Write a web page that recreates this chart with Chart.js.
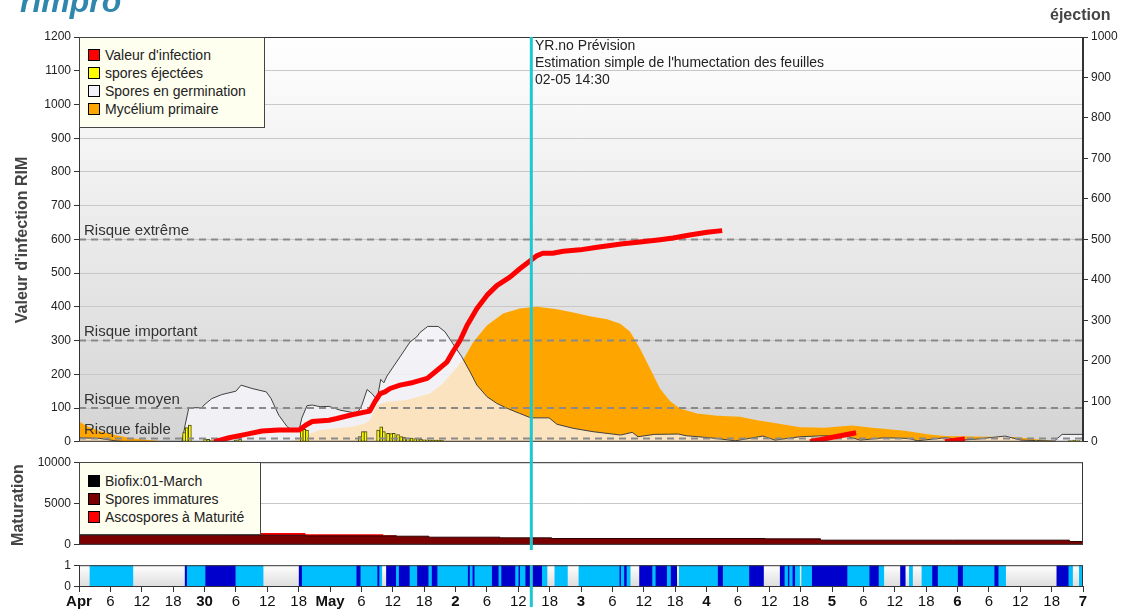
<!DOCTYPE html>
<html lang="fr">
<head>
<meta charset="utf-8">
<title>RIM</title>
<script src="https://cdn.jsdelivr.net/npm/chart.js@4.4.1/dist/chart.umd.min.js"></script>
<style>
  body { margin: 0; background: #fff; font-family: "Liberation Sans", Arial, sans-serif; }
  #wrap { position: relative; width: 1135px; height: 610px; overflow: hidden; }
  canvas { position: absolute; left: 0; }
  .txt { position: absolute; white-space: nowrap; color: #222; }
  .vtitle { position: absolute; white-space: nowrap; font-weight: bold; font-size: 16px; color: #444;
            transform: translate(-50%, -50%) rotate(-90deg); }
  .legend { position: absolute; background: #fffff0; border: 1px solid #444; box-sizing: border-box;
            font-size: 14px; color: #222; }
  .legend div { height: 18px; line-height: 18px; padding-left: 8px; }
  .sw { display: inline-block; width: 10px; height: 10px; border: 1px solid #000; margin-right: 5px;
        vertical-align: -1px; }
</style>
</head>
<body>
<div id="wrap">
  <canvas id="main" width="1135" height="452" style="top:0"></canvas>
  <canvas id="mat" width="1135" height="103" style="top:452px"></canvas>
  <canvas id="wet" width="1135" height="55" style="top:555px"></canvas>

  <div class="txt" style="left:20px;top:-15px;font-size:32px;line-height:32px;font-weight:bold;font-style:italic;color:#2f87ad">rimpro</div>
  <div class="txt" style="left:1050px;top:6px;font-size:16px;font-weight:bold;color:#444">éjection</div>
  <div class="vtitle" style="left:22px;top:240px">Valeur d'infection RIM</div>
  <div class="vtitle" style="left:18px;top:505px">Maturation</div>

  <div class="txt" style="left:535px;top:37px;font-size:14px;line-height:17px">YR.no Prévision<br>Estimation simple de l'humectation des feuilles<br>02-05 14:30</div>

  <div class="legend" style="left:79px;top:37px;width:186px;height:91px;padding-top:8px">
    <div><span class="sw" style="background:#ff0000"></span>Valeur d'infection</div>
    <div><span class="sw" style="background:#ffff00"></span>spores éjectées</div>
    <div><span class="sw" style="background:#f2f2f8"></span>Spores en germination</div>
    <div><span class="sw" style="background:#ffa500"></span>Mycélium primaire</div>
  </div>
  <div class="legend" style="left:79px;top:462px;width:182px;height:73px;padding-top:9px">
    <div><span class="sw" style="background:#000"></span>Biofix:01-March</div>
    <div><span class="sw" style="background:#7b0000"></span>Spores immatures</div>
    <div><span class="sw" style="background:#ff0000"></span>Ascospores à Maturité</div>
  </div>
</div>

<script>
// heures depuis le 29 avril 00:00
const dayLabels = ['Apr', '30', 'May', '2', '3', '4', '5', '6', '7'];
const nowHour = 86.5;
const riskLevels = [600, 300, 100, 10];
const riskLabels = ['Risque extrême', 'Risque important', 'Risque moyen', 'Risque faible'];

// Valeur d'infection (null = interruption)
const infHours = [25.8, 28.7, 31.9, 35.0, 38.2, 42.1, 43.4, 44.6, 47.8, 49.3, 52.4, 55.6, 56.6, 57.6, 58.5,
  59.5, 61.4, 63.9, 66.6, 68.5, 70.4, 71.5, 72.9, 74.2, 76.1, 78.0, 79.9, 82.4, 84.3, 86.3, 87.6, 88.7,
  90.6, 92.6, 95.8, 99.1, 104.0, 107.3, 111.1, 113.6, 116.8, 120.1, 123.0, 124, 139.8, 143.6, 148.6,
  150, 165.6, 169.4];
const infValues = [0, 12, 22, 32, 35, 35, 50, 60, 64, 69, 81, 91, 119, 143, 148,
  158, 168, 176, 188, 212, 237, 267, 301, 345, 395, 434, 463, 488, 513, 537, 552, 559,
  559, 565, 569, 577, 587, 592, 599, 604, 613, 621, 626, null, 0, 12, 27,
  null, 0, 8];

// Spores en germination
const germHours = [0, 4.0, 6.9, 8.8, 19.7, 20.3, 21.0, 23.5, 23.9, 25.4, 27.3, 30.0, 31.0, 33.1, 35.8,
  36.7, 38.2, 39.8, 40.7, 42.1, 42.6, 43.6, 44.6, 46.1, 47.8, 49.9, 53.2, 54.1, 55.1, 56.0, 57.0, 57.7,
  58.3, 58.9, 61.4, 63.3, 64.6, 65.2, 66.7, 68.7, 70.0, 71.5, 73.2, 74.8, 76.1, 78.0, 79.9, 81.9, 84.3,
  86.4, 89.9, 91.4, 94.5, 98.3, 103.6, 105.8, 106.9, 110.0, 114.6, 116.1, 120.7, 125.5, 130.8, 133.1,
  137.9, 142.5, 147.1, 149.4, 154.0, 158.7, 160.3, 165.6, 168.7, 171.7, 177.1, 180.1, 186.5, 188.0, 192];
const germValues = [12, 10, 3, 0, 0, 50, 101, 101, 109, 128, 140, 150, 168, 158, 148,
  129, 79, 45, 35, 35, 70, 107, 109, 104, 105, 94, 84, 109, 155, 143, 125, 185,
  175, 195, 252, 296, 311, 324, 342, 342, 326, 291, 252, 207, 168, 134, 114, 99, 84,
  71, 71, 52, 40, 30, 20, 28, 15, 22, 23, 18, 12, 3, 17, 5,
  15, 18, 15, 5, 12, 10, 3, 12, 5, 8, 17, 5, 2, 22, 22];

// Mycélium primaire
const mycHours = [0, 1.5, 4.0, 7.3, 10.3, 14.9, 17.4, 40.4, 42.3, 46.1, 52.4, 54.7, 55.6, 57.0, 58.9,
  62.7, 67.1, 69.6, 71.5, 73.4, 75.4, 78.0, 81.1, 84.3, 87.6, 91.4, 94.5, 97.7, 101.0, 103.5, 105.4,
  107.3, 109.2, 111.1, 113.0, 114.9, 118.2, 122.0, 126.4, 129.7, 133.3, 137.9, 142.5, 147.8, 151.7,
  157.9, 162.6, 165.6, 173.3, 178.8, 182.6, 187.2, 192];
const mycValues = [60, 46, 31, 19, 10, 3, 0, 0, 15, 35, 45, 55, 64, 109, 119,
  124, 143, 173, 207, 242, 296, 345, 380, 395, 400, 393, 383, 372, 363, 350, 326,
  276, 217, 158, 121, 99, 84, 77, 74, 64, 55, 43, 42, 48, 42,
  33, 22, 17, 15, 14, 8, 2, 0];

// spores éjectées (axe de droite)
const ejectHours = [20.1, 20.6, 21.2, 24.1, 24.7, 25.4, 30.0, 30.8, 42.6, 43.1, 43.6, 53.7, 54.3, 54.8,
  57.2, 57.8, 58.3, 59.1, 59.7, 60.2, 61.0, 61.6, 62.2, 62.9, 63.6, 64.3, 64.8, 65.4, 66.0, 66.6, 67.1,
  67.7, 68.3, 68.8, 69.4, 183.0, 189.5, 190.3, 191.1];
const ejectValues = [23, 35, 41, 7, 6, 3, 4, 6, 29, 31, 29, 13, 25, 25,
  29, 37, 25, 21, 20, 21, 18, 13, 11, 9, 9, 8, 8, 6, 5, 5, 4,
  4, 4, 4, 4, 3, 3, 4, 3];

// Maturation
const matHours = [0, 28.5, 43.3, 58.2, 60.7, 66.9, 80.5, 90.4, 131.2, 141.8, 167.1, 189.4, 192];
const matImmature = [1160, 1160, 1080, 1080, 1040, 920, 840, 760, 720, 560, 560, 400, 400];
const matMature = [0, 280, 200, 80, 0, 0, 0, 0, 0, 0, 0, 0, 0];

// Humectation : [début, fin, type] 1 = estimée, 2 = mouillée
const wetSegments = [
  [2.1, 10.3, 1], [20.3, 20.7, 2], [20.7, 24.1, 1], [24.1, 30.0, 2], [30.0, 35.2, 1],
  [42.1, 42.7, 2], [42.7, 53.0, 1], [53.0, 53.9, 2], [53.9, 57.0, 1], [57.0, 57.5, 2],
  [57.5, 57.9, 1], [58.8, 60.7, 2], [60.7, 61.1, 1], [61.1, 63.3, 2], [63.3, 64.6, 1],
  [64.6, 66.9, 2], [66.9, 67.4, 1], [67.4, 68.6, 2], [68.6, 74.3, 1], [74.3, 74.8, 2],
  [74.8, 75.2, 1], [75.2, 75.7, 2], [75.7, 78.9, 1], [78.9, 80.3, 2], [80.3, 80.7, 1],
  [80.7, 83.5, 2], [83.5, 84.0, 1], [84.0, 84.4, 2], [84.4, 85.3, 1], [85.3, 88.6, 2],
  [88.6, 89.5, 1], [91.0, 93.4, 1], [95.6, 103.3, 1], [103.3, 103.7, 2], [103.7, 104.2, 1],
  [104.2, 104.8, 2], [104.8, 105.4, 1], [107.2, 109.7, 2], [109.7, 110.2, 1], [110.2, 112.5, 2],
  [112.5, 113.1, 1], [113.1, 114.3, 2], [114.8, 122.1, 1], [122.1, 123.2, 2], [123.2, 128.1, 1],
  [128.1, 130.9, 2], [134.1, 135.0, 2], [135.0, 135.5, 1], [135.5, 135.9, 2], [135.9, 136.4, 1],
  [136.4, 137.0, 2], [137.0, 137.8, 1], [138.2, 140.1, 1], [140.1, 147.0, 2], [147.0, 151.1, 1],
  [151.1, 153.0, 2], [153.0, 153.9, 1], [157.1, 158.0, 2], [158.8, 159.4, 1], [161.2, 163.1, 1],
  [163.1, 164.3, 2], [164.3, 168.0, 1], [168.0, 169.1, 2], [169.1, 175.0, 1], [175.0, 175.9, 2],
  [175.9, 177.2, 1], [187.0, 189.3, 2], [189.3, 190.0, 1], [191.3, 192, 1]
];

Chart.defaults.font.family = '"Liberation Sans", Arial, sans-serif';
Chart.defaults.color = '#222';

function pts(xs, ys) {
  return xs.map((x, i) => ({ x: x, y: ys[i] }));
}
const fixWidth = w => s => { s.width = w; };
const plain = v => String(v);

const tickFont = { size: 12 };
const axisGrid = { color: '#c8c8c8', tickColor: '#333', tickLength: 5 };

// fond dégradé, cadre, ligne "maintenant", libellés de risque
const panelDecor = {
  id: 'panelDecor',
  beforeDraw(chart, args, opts) {
    const { ctx, chartArea: a } = chart;
    ctx.save();
    if (opts.gradient) {
      const g = ctx.createLinearGradient(0, a.top, 0, a.bottom);
      g.addColorStop(0, opts.gradient[0]);
      g.addColorStop(1, opts.gradient[1]);
      ctx.fillStyle = g;
    } else {
      ctx.fillStyle = '#fff';
    }
    ctx.fillRect(a.left, a.top, a.width, a.height);
    ctx.restore();
  },
  afterDatasetsDraw(chart, args, opts) {
    if (!opts.risk) return;
    const { ctx, chartArea: a, scales } = chart;
    ctx.save();
    ctx.font = '15px "Liberation Sans", Arial, sans-serif';
    ctx.fillStyle = '#333';
    ctx.textBaseline = 'bottom';
    riskLevels.forEach((v, i) => {
      ctx.fillText(riskLabels[i], a.left + 5, scales.y.getPixelForValue(v) - 1);
    });
    ctx.restore();
  },
  afterDraw(chart, args, opts) {
    const { ctx, chartArea: a, scales } = chart;
    ctx.save();
    ctx.strokeStyle = '#333';
    ctx.lineWidth = 1;
    ctx.strokeRect(a.left + 0.5, a.top + 0.5, a.width - 1, a.height - 1);
    const x = scales.x.getPixelForValue(nowHour);
    ctx.strokeStyle = '#1ec8d2';
    ctx.lineWidth = 3;
    ctx.beginPath();
    ctx.moveTo(x, opts.cyanFrom !== undefined ? opts.cyanFrom : a.top);
    ctx.lineTo(x, opts.cyanTo !== undefined ? opts.cyanTo : a.bottom);
    ctx.stroke();
    ctx.restore();
  }
};

new Chart(document.getElementById('main'), {
  type: 'line',
  plugins: [panelDecor],
  data: {
    datasets: [
      { label: "Valeur d'infection", data: pts(infHours, infValues), borderColor: '#ff0000', borderWidth: 5,
        borderJoinStyle: 'round', pointRadius: 0, order: 0 },
      ...riskLevels.map(v => ({ data: [{ x: 0, y: v }, { x: 192, y: v }], borderColor: '#8a8a8a',
        borderWidth: 2, borderDash: [7, 5], pointRadius: 0, order: 1 })),
      { type: 'bar', label: 'spores éjectées', data: pts(ejectHours, ejectValues), yAxisID: 'y2',
        backgroundColor: '#ffff00', borderColor: '#4a4a00', borderWidth: 1, barThickness: 3, order: 2 },
      { label: 'Spores en germination', data: pts(germHours, germValues), borderColor: '#404040', borderWidth: 1,
        backgroundColor: 'rgba(250,248,255,0.75)', fill: 'origin', pointRadius: 0, order: 3 },
      { label: 'Mycélium primaire', data: pts(mycHours, mycValues), borderWidth: 0,
        backgroundColor: '#ffa500', fill: 'origin', pointRadius: 0, order: 4 }
    ]
  },
  options: {
    responsive: false,
    animation: false,
    layout: { padding: { top: 37, bottom: 9 } },
    plugins: {
      legend: { display: false },
      tooltip: { enabled: false },
      panelDecor: { gradient: ['#ffffff', '#d4d4d4'], risk: true, cyanTo: 452 }
    },
    scales: {
      x: { type: 'linear', min: 0, max: 192, offset: false, display: false },
      y: { position: 'left', min: 0, max: 1200, ticks: { stepSize: 100, font: tickFont, padding: 3, callback: plain },
           grid: axisGrid, border: { color: '#333' }, afterFit: fixWidth(79) },
      y2: { position: 'right', min: 0, max: 1000, ticks: { stepSize: 100, font: tickFont, padding: 3, callback: plain },
            grid: { drawOnChartArea: false, tickColor: '#333', tickLength: 5 }, border: { color: '#333' },
            afterFit: fixWidth(52) }
    }
  }
});

new Chart(document.getElementById('mat'), {
  type: 'line',
  plugins: [panelDecor],
  data: {
    datasets: [
      { label: 'Spores immatures', data: pts(matHours, matImmature), stepped: true, fill: 'origin',
        backgroundColor: '#7b0000', borderColor: '#2a0000', borderWidth: 1, pointRadius: 0 },
      { label: 'Ascospores à Maturité', data: pts(matHours, matMature), stepped: true, fill: '-1',
        backgroundColor: '#ff0000', borderWidth: 0, pointRadius: 0 }
    ]
  },
  options: {
    responsive: false,
    animation: false,
    layout: { padding: { top: 10, bottom: 10, right: 52 } },
    plugins: {
      legend: { display: false },
      tooltip: { enabled: false },
      panelDecor: { cyanFrom: 0, cyanTo: 98 }
    },
    scales: {
      x: { type: 'linear', min: 0, max: 192, offset: false, display: false },
      y: { stacked: true, min: 0, max: 10000, ticks: { stepSize: 5000, font: tickFont, padding: 3, callback: plain },
           grid: axisGrid, border: { color: '#333' }, afterFit: fixWidth(79) }
    }
  }
});

new Chart(document.getElementById('wet'), {
  type: 'bar',
  plugins: [panelDecor],
  data: {
    labels: ['w'],
    datasets: [
      { data: wetSegments.filter(s => s[2] === 1).map(s => ({ x: [s[0], s[1]], y: 'w' })),
        backgroundColor: '#00bfff' },
      { data: wetSegments.filter(s => s[2] === 2).map(s => ({ x: [s[0], s[1]], y: 'w' })),
        backgroundColor: '#0000cd' }
    ]
  },
  options: {
    responsive: false,
    animation: false,
    indexAxis: 'y',
    layout: { padding: { top: 8, right: 52 } },
    datasets: { bar: { grouped: false, barPercentage: 1, categoryPercentage: 1 } },
    plugins: {
      legend: { display: false },
      tooltip: { enabled: false },
      panelDecor: { gradient: ['#ffffff', '#dcdcdc'], cyanTo: 52 }
    },
    scales: {
      x: {
        type: 'linear', min: 0, max: 192, offset: false,
        ticks: {
          stepSize: 6, autoSkip: false, maxRotation: 0, padding: 1, color: '#111',
          callback: v => v % 24 === 0 ? dayLabels[v / 24] : String(v % 24),
          font: c => ({ size: 15, weight: c.tick && c.tick.value % 24 === 0 ? 'bold' : 'normal',
                        family: '"Liberation Sans Narrow", "Liberation Sans", Arial, sans-serif' })
        },
        grid: { drawOnChartArea: false, tickColor: '#333', tickLength: 5 },
        border: { color: '#333' },
        afterFit: s => { s.height = 23; }
      },
      y: { type: 'category', display: false },
      yv: { type: 'linear', position: 'left', min: 0, max: 1, offset: false,
            ticks: { stepSize: 1, autoSkip: false, font: tickFont, padding: 3, callback: plain },
            grid: { drawOnChartArea: false, offset: false, tickColor: '#333', tickLength: 5 },
            border: { color: '#333' }, afterFit: fixWidth(79) }
    }
  }
});
</script>
</body>
</html>
